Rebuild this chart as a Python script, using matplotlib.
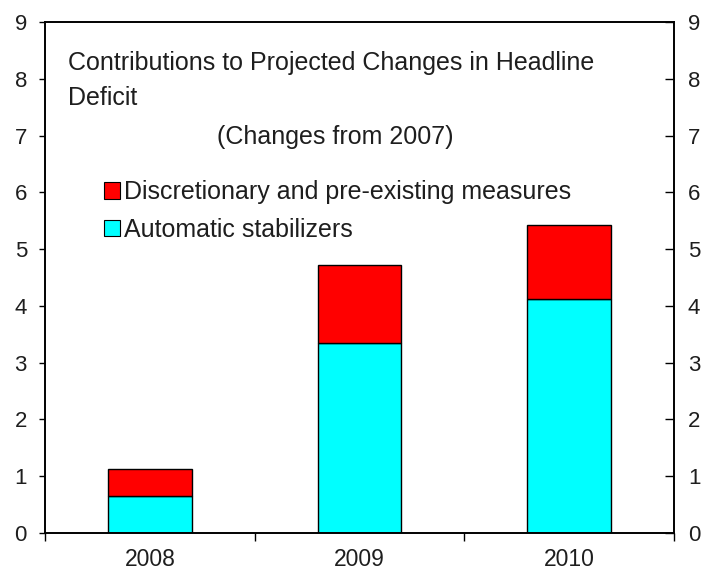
import matplotlib
matplotlib.use("Agg")
import matplotlib.pyplot as plt
from matplotlib.patches import Patch

years = ["2008", "2009", "2010"]
automatic = [0.65, 3.35, 4.13]
discretionary = [0.48, 1.37, 1.30]
yticks = list(range(0, 10))

plt.rcParams['font.family'] = ['Liberation Sans', 'DejaVu Sans']
txt = '#1e1e1e'

fig = plt.figure(figsize=(7.07, 5.78), dpi=100)
ax = fig.add_axes([45/707, 45/578, 629/707, 511/578])

x = list(range(len(years)))
ax.bar(x, automatic, width=0.4, color='#00FFFF', edgecolor='black', linewidth=1.0, zorder=2)
ax.bar(x, discretionary, bottom=automatic, width=0.4, color='#FF0000', edgecolor='black', linewidth=1.0, zorder=2)

ax.set_xlim(-0.5, 2.5)
ax.set_ylim(0, 9)
ax.set_yticks(yticks)
ax.set_xticks([-0.5, 0.5, 1.5, 2.5])
ax.set_xticklabels([])
ax.set_xticks(x, minor=True)
ax.set_xticklabels(years, minor=True)
ax.tick_params(axis='x', which='major', direction='out', length=6, width=1, color='black')
ax.tick_params(axis='x', which='minor', length=0, pad=11, labelsize=16.5, labelcolor=txt)
ax.tick_params(axis='y', which='both', direction='out', length=4, width=1, labelsize=16,
               labelcolor=txt, left=True, right=False, pad=9)

ax2 = ax.twinx()
ax2.set_ylim(0, 9)
ax2.set_yticks(yticks)
ax2.tick_params(axis='y', direction='in', length=6.5, width=1, labelsize=16, labelcolor=txt, pad=10)

for a in (ax, ax2):
    for s in a.spines.values():
        s.set_linewidth(1.2)
        s.set_color('black')

def px(xp, yp):
    return (xp - 45) / 629, 1 - (yp - 22) / 511

ax.text(*px(68, 63), "Contributions to Projected Changes in Headline",
        transform=ax.transAxes, fontsize=18, color=txt, va='center', ha='left')
ax.text(*px(68, 98), "Deficit",
        transform=ax.transAxes, fontsize=18, color=txt, va='center', ha='left')
ax.text(*px(335, 137), "(Changes from 2007)", transform=ax.transAxes,
        fontsize=18, color=txt, va='center', ha='center')

handles = [Patch(facecolor='#FF0000', edgecolor='black', linewidth=0.8),
           Patch(facecolor='#00FFFF', edgecolor='black', linewidth=0.8)]
ax.legend(handles, ["Discretionary and pre-existing measures", "Automatic stabilizers"],
          loc='upper left', bbox_to_anchor=px(104, 180),
          frameon=False, fontsize=18, handlelength=0.65, handleheight=0.65,
          handletextpad=0.15, labelspacing=0.55, borderaxespad=0, borderpad=0,
          labelcolor=txt)

fig.savefig("out.png", dpi=100)
